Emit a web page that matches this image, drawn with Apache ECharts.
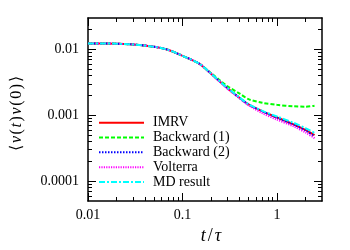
<!DOCTYPE html>
<html><head><meta charset="utf-8">
<script src="https://cdn.jsdelivr.net/npm/echarts@6/dist/echarts.min.js"></script>
<style>html,body{margin:0;padding:0;background:#fff}#c{width:350px;height:250px}</style>
</head><body><div id="c"></div>
<script>
const tVals   = [0.01, 0.015, 0.02, 0.03, 0.05, 0.07, 0.1, 0.15, 0.2, 0.25, 0.3, 0.4, 0.5, 0.7, 1.0, 1.5, 2.0, 2.5];
const imrv    = [0.0123,0.0123,0.0122,0.0119,0.0110,0.0099,0.0080,0.0061,0.0043,0.00323,0.00257,0.00185,0.00146,0.00115,0.00093,0.00073,0.00060,0.00050];
const back1   = [0.0123,0.0123,0.0122,0.0119,0.0110,0.0099,0.0080,0.0061,0.0044,0.00338,0.00276,0.00215,0.00176,0.00155,0.00144,0.00137,0.00135,0.00140];
const back2   = [0.0123,0.0123,0.0122,0.0119,0.0110,0.0099,0.0080,0.0061,0.0043,0.00323,0.00257,0.00185,0.00146,0.00115,0.00092,0.00072,0.00059,0.00048];
const volt    = [0.0123,0.0123,0.0122,0.0119,0.0110,0.0099,0.0080,0.0061,0.0043,0.00320,0.00253,0.00182,0.00142,0.00108,0.00086,0.00068,0.00055,0.00045];
const md      = [0.0123,0.0123,0.0122,0.0119,0.0110,0.0099,0.0080,0.0061,0.0043,0.00325,0.00259,0.00187,0.00148,0.00117,0.00096,0.00077,0.00064,0.00054];
const seriesNames = ['IMRV','Backward (1)','Backward (2)','Volterra','MD result'];
const xMajor = [0.01, 0.1, 1];
const xTickLabels = ['0.01','0.1','1'];
const xMinor = [0.02,0.03,0.04,0.05,0.06,0.07,0.08,0.09,0.2,0.3,0.4,0.5,0.6,0.7,0.8,0.9,2];
const yMajor = [0.0001, 0.001, 0.01];
const yTickLabels = ['0.0001','0.001','0.01'];
const yMinor = [0.00006,0.00007,0.00008,0.00009,0.0002,0.0003,0.0004,0.0005,0.0006,0.0007,0.0008,0.0009,0.002,0.003,0.004,0.005,0.006,0.007,0.008,0.009,0.02];

const FONT = 'Liberation Serif';
function lab(majors, labels){
  return v => { for (let i=0;i<majors.length;i++){ if (Math.abs(Math.log10(v)-Math.log10(majors[i]))<1e-6) return labels[i]; } return ''; };
}
function axis(kind, pos, opts){
  const isX = kind==='x';
  const base = {
    type:'log', logBase:10, position:pos,
    min: isX?0.01:0.00005, max: isX?3:0.03,
    splitLine:{show:false},
    axisLine:{show:opts.line, onZero:false, lineStyle:{color:'#000', width:1.5}},
    axisTick:{show:true, inside:true, length:opts.len, lineStyle:{color:'#000', width:1}, customValues:opts.ticks},
    axisLabel:{show:!!opts.label, color:'#000', fontFamily:FONT, fontSize:14, margin: isX?7:9,
      formatter: isX?lab(xMajor,xTickLabels):lab(yMajor,yTickLabels)}
  };
  return Object.assign(base, opts.extra||{});
}
const chart = echarts.init(document.getElementById('c'), null, {renderer:'canvas'});
const styles = [
  {color:'#ff0000', type:'solid'},
  {color:'#00ff00', type:[4,2]},
  {color:'#0000ff', type:[1.5,1.5]},
  {color:'#ff00ff', type:[1.2,1.2]},
  {color:'#00ffff', type:[6,2,2,2]}
];
const dataSets = [imrv, back1, back2, volt, md];
const rich = {
  i:{fontFamily:FONT,fontSize:16,fontStyle:'italic',color:'#000',padding:[0,0.8,0,0.8]},
  n:{fontFamily:FONT,fontSize:16,color:'#000',padding:[0,0.8,0,0.8]}
};
chart.setOption({
  animation:false,
  backgroundColor:'#fff',
  grid:{left:88, right:28, top:18, bottom:49, containLabel:false},
  legend:{
    left:98, top:115.6, padding:0, orient:'vertical', itemWidth:45, itemHeight:10, itemGap:0.5,
    data:seriesNames.map((n,k)=>({name:n, itemStyle:{opacity:0},
      lineStyle:{color:styles[k].color, width:2, type:styles[k].type, opacity:1}})),
    textStyle:{fontFamily:FONT, fontSize:14, color:'#000', lineHeight:14.3, padding:[0,0,0,4]}
  },
  xAxis:[
    axis('x','bottom',{line:true,len:8,ticks:xMajor,label:true,extra:{
      name:'{i|t}{n|/}{i|τ}', nameLocation:'middle', nameGap:19,
      nameTextStyle:{padding:[0,0,0,12], rich:{
        i:{fontFamily:FONT,fontSize:18,fontStyle:'italic',color:'#000',padding:[0,1,0,1]},
        n:{fontFamily:FONT,fontSize:18,color:'#000',padding:[0,1,0,1]}}}}}),
    axis('x','bottom',{line:false,len:4,ticks:xMinor}),
    axis('x','top',{line:true,len:8,ticks:xMajor}),
    axis('x','top',{line:false,len:4,ticks:xMinor})
  ],
  yAxis:[
    axis('y','left',{line:true,len:8,ticks:yMajor,label:true,extra:{
      name:'{n|⟨}{i|v}{n|(}{i|t}{n|)}{i|v}{n|(}{n|0}{n|)}{n|⟩}', nameLocation:'middle', nameGap:63, nameRotate:90,
      nameTextStyle:{padding:[0,8,0,0], rich:rich}}}),
    axis('y','left',{line:false,len:4,ticks:yMinor}),
    axis('y','right',{line:true,len:8,ticks:yMajor}),
    axis('y','right',{line:false,len:4,ticks:yMinor})
  ],
  series: seriesNames.map((n,k)=>({
    name:n, type:'line', xAxisIndex:0, yAxisIndex:0, symbol:'none', smooth:0.3,
    itemStyle:{color:styles[k].color},
    lineStyle:{color:styles[k].color, width:2, type:styles[k].type},
    data: tVals.map((t,i)=>[t, dataSets[k][i]])
  }))
});
</script></body></html>
